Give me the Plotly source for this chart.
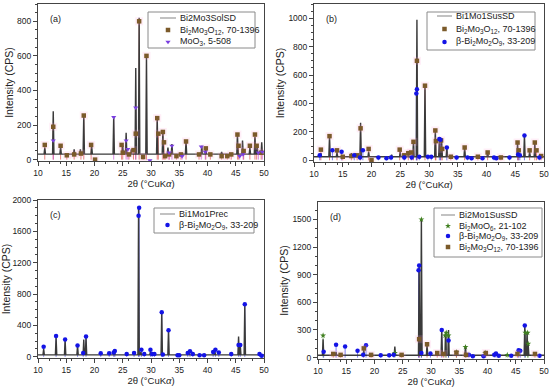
import plotly.graph_objects as go

# ---------------- data ----------------
x_ticks = [10, 15, 20, 25, 30, 35, 40, 45, 50]

# Panel (a) Bi2Mo3SolSD
a_bg = 32
a_peak_x = [11.2, 12.7, 14.0, 16.4, 17.5, 18.1, 19.5, 23.4, 25.0, 25.6, 26.5, 27.3, 27.9, 29.2, 31.1, 32.1, 33.0, 33.7, 36.2, 39.0, 39.7, 42.5, 45.3, 46.2, 47.5, 48.4, 48.8, 49.6]
a_peak_y = [70, 280, 75, 60, 60, 260, 80, 250, 80, 155, 60, 530, 820, 600, 240, 160, 70, 90, 105, 80, 60, 45, 150, 110, 70, 130, 80, 100]
a_ref1_x = [11.2, 12.7, 14.0, 15.1, 16.4, 17.6, 18.1, 19.4, 20.1, 24.8, 25.0, 26.1, 26.9, 27.3, 27.9, 28.6, 29.2, 31.1, 31.3, 32.1, 32.3, 32.5, 33.2, 34.5, 35.3, 36.2, 38.5, 39.7, 40.5, 42.5, 43.5, 44.2, 45.3, 45.5, 46.4, 47.5, 48.4, 48.7, 49.5]
a_ref1_y = [85, 190, 80, 25, 30, 35, 255, 85, 0, 85, 40, 30, 55, 150, 800, 15, 600, 240, 150, 160, 100, 20, 30, 20, 30, 105, 30, 65, 30, 20, 20, 30, 145, 80, 50, 80, 145, 80, 40]
a_ref2_x = [12.7, 23.4, 25.6, 25.9, 27.3, 29.8, 33.2, 33.7, 35.5, 38.9, 39.6, 45.7, 46.3, 49.0, 49.7]
a_ref2_y = [110, 245, 110, 60, 300, -5, 40, 80, 20, 75, 45, 20, 30, 40, 45]

# Panel (b) Bi1Mo1SusSD
b_bg = 25
b_peak_x = [11.2, 12.7, 14.0, 16.5, 18.1, 19.5, 23.5, 25.0, 26.4, 27.3, 27.9, 29.3, 31.1, 31.8, 32.2, 33.1, 36.2, 40.2, 45.4, 46.6, 47.5, 48.4]
b_peak_y = [50, 170, 60, 50, 265, 60, 40, 60, 50, 140, 990, 530, 210, 150, 140, 90, 90, 60, 120, 175, 60, 120]
b_ref1_x = [11.2, 12.7, 14.0, 15.0, 16.5, 17.5, 18.1, 19.5, 20.0, 24.9, 25.7, 26.4, 26.9, 27.3, 27.9, 29.3, 31.1, 31.2, 32.1, 32.3, 33.8, 36.2, 38.5, 40.2, 42.5, 45.4, 45.6, 47.5, 48.4, 48.7, 49.5]
b_ref1_y = [75, 170, 70, 25, 30, 35, 225, 80, 0, 75, 35, 50, 55, 130, 700, 525, 210, 135, 140, 80, 25, 90, 25, 55, 20, 125, 70, 70, 125, 70, 30]
b_ref2_x = [11.0, 13.2, 14.8, 17.0, 18.0, 18.5, 21.2, 22.6, 23.4, 25.7, 27.0, 27.8, 27.9, 28.3, 29.8, 30.4, 31.8, 32.0, 33.1, 34.8, 36.7, 37.4, 39.3, 41.3, 41.7, 44.0, 45.5, 45.8, 46.6, 49.2]
b_ref2_y = [35, 70, 60, 35, 20, 70, 20, 15, 20, 20, 20, 470, 500, 25, 25, 25, 150, 145, 90, 20, 20, 15, 15, 20, 15, 20, 40, 35, 175, 20]

# Panel (c) Bi1Mo1Prec
c_bg = 25
c_peak_x = [11.0, 13.2, 14.8, 17.0, 18.1, 18.5, 23.5, 27.0, 27.8, 28.2, 29.9, 31.9, 33.1, 36.7, 41.3, 45.5, 45.8, 46.6, 49.2]
c_peak_y = [100, 250, 210, 140, 220, 250, 80, 50, 1900, 60, 70, 580, 350, 60, 60, 260, 150, 660, 30]
c_ref1_x = [11.0, 13.2, 14.8, 17.0, 18.0, 18.5, 21.1, 22.6, 23.4, 23.6, 25.7, 27.0, 27.8, 27.9, 28.3, 28.8, 29.9, 30.2, 30.6, 31.9, 32.1, 33.1, 34.7, 35.0, 36.5, 36.9, 37.4, 38.6, 39.4, 41.0, 41.4, 42.0, 44.2, 45.5, 45.8, 46.6, 49.2, 49.6]
c_ref1_y = [130, 265, 220, 145, 50, 260, 45, 45, 55, 75, 35, 50, 1800, 1900, 90, 35, 90, 35, 35, 570, 30, 340, 20, 20, 50, 70, 35, 20, 20, 60, 90, 55, 35, 150, 150, 670, 35, 15]

# Panel (d) Bi2Mo1SusSD
d_bg = 25
d_peak_x = [10.9, 13.2, 18.1, 23.6, 27.9, 28.3, 29.3, 31.9, 32.6, 33.1, 36.1, 46.6, 47.0, 47.2]
d_peak_y = [200, 60, 80, 120, 1000, 1500, 150, 300, 280, 300, 120, 350, 280, 150]
d_ref1_x = [10.9, 23.6, 28.3, 32.5, 32.7, 33.1, 34.5, 36.1, 39.6, 43.5, 46.7, 47.1, 47.2]
d_ref1_y = [240, 50, 1500, 240, 270, 240, 60, 115, 50, 30, 270, 270, 150]
d_ref2_x = [11.0, 13.2, 14.8, 17.0, 18.0, 18.5, 21.1, 22.6, 23.4, 27.8, 27.9, 28.3, 29.9, 31.9, 33.1, 36.7, 37.4, 39.3, 41.2, 41.5, 42.0, 44.2, 45.5, 45.8, 46.6, 49.2]
d_ref2_y = [65, 140, 120, 75, 30, 135, 25, 25, 30, 950, 1000, 50, 45, 300, 185, 30, 15, 15, 30, 45, 20, 20, 80, 75, 350, 20]
d_ref3_x = [12.7, 14.0, 18.1, 19.4, 24.8, 27.9, 29.3, 31.1, 32.2, 34.5, 36.2, 39.7, 45.3, 48.4]
d_ref3_y = [40, 30, 100, 30, 30, 200, 145, 50, 40, 55, 30, 50, 40, 40]

# ---------------- styling ----------------
BROWN = "#7b5a2a"
PURPLE = "#7a3fe0"
BLUE = "#1414e6"
GREEN = "#3f7f1f"
LINE = "#3a3a3a"
LEG_LINE = "#9a9a9a"
STICK_RED = "rgba(216,48,42,0.75)"
FONT = "Liberation Sans, Arial, sans-serif"
W, H = 550, 387

fig = go.Figure()


def pattern(px, py, bg):
    xs, ys = [10.0], [bg]
    for x, y in sorted(zip(px, py)):
        xs += [x - 0.12, x, x + 0.12]
        ys += [bg, y, bg]
    xs.append(50.0)
    ys.append(bg)
    return xs, ys


def sticks(rx, ry):
    xs, ys = [], []
    for x, y in zip(rx, ry):
        xs += [x, x, None]
        ys += [0, y, None]
    return xs, ys


def add_panel(n, px, py, bg, refs):
    xa = "x" if n == 1 else f"x{n}"
    ya = "y" if n == 1 else f"y{n}"
    for rx, ry, label, color, symbol, stickc in refs:
        sx, sy = sticks(rx, ry)
        fig.add_trace(go.Scatter(x=sx, y=sy, mode="lines", line=dict(color=stickc, width=0.8),
                                 xaxis=xa, yaxis=ya, showlegend=False, hoverinfo="skip"))
    xs, ys = pattern(px, py, bg)
    fig.add_trace(go.Scatter(x=xs, y=ys, mode="lines", line=dict(color=LINE, width=1.4),
                             xaxis=xa, yaxis=ya, showlegend=False))
    for rx, ry, label, color, symbol, stickc in refs:
        if color == BROWN:
            fig.add_trace(go.Scatter(x=rx, y=ry, mode="markers",
                                     marker=dict(symbol="square", size=8, color="rgba(255,160,210,0.18)"),
                                     xaxis=xa, yaxis=ya, showlegend=False, hoverinfo="skip"))
        fig.add_trace(go.Scatter(x=rx, y=ry, mode="markers",
                                 marker=dict(symbol=symbol, size=4.5, color=color),
                                 xaxis=xa, yaxis=ya, showlegend=False))


L_BMO = "Bi<sub>2</sub>Mo<sub>3</sub>O<sub>12</sub>, 70-1396"
L_BETA = "β-Bi<sub>2</sub>Mo<sub>2</sub>O<sub>9</sub>, 33-209"
L_MOO3 = "MoO<sub>3</sub>, 5-508"
L_B2M = "Bi<sub>2</sub>MoO<sub>6</sub>, 21-102"

refs_a = [(a_ref1_x, a_ref1_y, L_BMO, BROWN, "square", STICK_RED),
          (a_ref2_x, a_ref2_y, L_MOO3, PURPLE, "triangle-down", "rgba(190,60,210,0.75)")]
refs_b = [(b_ref1_x, b_ref1_y, L_BMO, BROWN, "square", STICK_RED),
          (b_ref2_x, b_ref2_y, L_BETA, BLUE, "circle", "rgba(20,20,230,0.7)")]
refs_c = [(c_ref1_x, c_ref1_y, L_BETA, BLUE, "circle", "rgba(20,20,230,0.7)")]
refs_d = [(d_ref1_x, d_ref1_y, L_B2M, GREEN, "star", "rgba(63,127,31,0.7)"),
          (d_ref2_x, d_ref2_y, L_BETA, BLUE, "circle", "rgba(20,20,230,0.7)"),
          (d_ref3_x, d_ref3_y, L_BMO, BROWN, "square", STICK_RED)]

add_panel(1, a_peak_x, a_peak_y, a_bg, refs_a)
add_panel(2, b_peak_x, b_peak_y, b_bg, refs_b)
add_panel(3, c_peak_x, c_peak_y, c_bg, refs_c)
add_panel(4, d_peak_x, d_peak_y, d_bg, refs_d)

panels = {
    1: dict(x0=38, x1=264, y0=4, y1=161, yr=[-8, 900], ytick=200, label="(a)"),
    2: dict(x0=314, x1=544, y0=4, y1=162, yr=[-12, 1100], ytick=200, label="(b)"),
    3: dict(x0=38, x1=264, y0=200, y1=358, yr=[-15, 2000], ytick=400, label="(c)"),
    4: dict(x0=318, x1=544, y0=202, y1=359, yr=[-15, 1690], ytick=300, label="(d)"),
}
# legend boxes in pixels: left, top, right, bottom, line x0, line x1, text x, row ys
legends = {
    1: dict(box=(148, 12, 255, 48), lx=(160, 176), tx=178, rows=(18, 30, 42),
            names=["Bi2Mo3SolSD"] + [r[2] for r in refs_a], refs=refs_a),
    2: dict(box=(427, 12, 535, 50), lx=(437, 452), tx=454, rows=(16, 29, 42),
            names=["Bi1Mo1SusSD"] + [r[2] for r in refs_b], refs=refs_b),
    3: dict(box=(154, 208, 254, 233), lx=(160, 175), tx=177, rows=(214, 225),
            names=["Bi1Mo1Prec"] + [r[2] for r in refs_c], refs=refs_c),
    4: dict(box=(434, 208, 542, 257), lx=(441, 455), tx=457, rows=(215, 226, 236, 247),
            names=["Bi2Mo1SusSD"] + [r[2] for r in refs_d], refs=refs_d),
}

annotations = []
for n, lg in legends.items():
    l, t, r, b = lg["box"]
    fig.add_trace(go.Scatter(x=[l, r, r, l, l], y=[t, t, b, b, t], mode="lines", fill="toself",
                             fillcolor="white", line=dict(color="#8a8a8a", width=1),
                             xaxis="x5", yaxis="y5", showlegend=False, hoverinfo="skip"))
    rows = lg["rows"]
    fig.add_trace(go.Scatter(x=list(lg["lx"]), y=[rows[0], rows[0]], mode="lines",
                             line=dict(color=LEG_LINE, width=1.2),
                             xaxis="x5", yaxis="y5", showlegend=False, hoverinfo="skip"))
    mx = (lg["lx"][0] + lg["lx"][1]) / 2
    for ry, ref in zip(rows[1:], lg["refs"]):
        fig.add_trace(go.Scatter(x=[mx], y=[ry], mode="markers",
                                 marker=dict(symbol=ref[4], size=4.5, color=ref[3]),
                                 xaxis="x5", yaxis="y5", showlegend=False, hoverinfo="skip"))
    for ry, name in zip(rows, lg["names"]):
        annotations.append(dict(x=lg["tx"] / W, y=1 - ry / H, xref="paper", yref="paper", text=name,
                                showarrow=False, xanchor="left", yanchor="middle",
                                font=dict(family=FONT, size=9, color="#222")))

axis_common = dict(showline=True, linecolor="#444", linewidth=1, mirror=True, automargin=False,
                   ticks="outside", ticklen=4, tickcolor="#444", showgrid=False, zeroline=False,
                   tickfont=dict(family=FONT, size=8.5, color="#222"),
                   minor=dict(ticks="outside", ticklen=2, tickcolor="#444"))

layout = dict(width=W, height=H, margin=dict(l=0, r=0, t=0, b=0),
              paper_bgcolor="white", plot_bgcolor="rgba(0,0,0,0)",
              font=dict(family=FONT, size=9, color="#222"), showlegend=False,
              xaxis5=dict(domain=[0, 1], range=[0, W], visible=False, anchor="y5", fixedrange=True),
              yaxis5=dict(domain=[0, 1], range=[H, 0], visible=False, anchor="x5", fixedrange=True))
for n, p in panels.items():
    sx = "" if n == 1 else str(n)
    layout[f"xaxis{sx}"] = dict(axis_common, domain=[p["x0"] / W, p["x1"] / W], range=[10, 50],
                                tickvals=x_ticks, anchor=f"y{sx}",
                                title=dict(text="2θ (°CuK<i>α</i>)", font=dict(family=FONT, size=9.5), standoff=3))
    layout[f"yaxis{sx}"] = dict(axis_common, domain=[1 - p["y1"] / H, 1 - p["y0"] / H], range=p["yr"],
                                dtick=p["ytick"], tick0=0, anchor=f"x{sx}",
                                title=dict(text="Intensity (CPS)", font=dict(family=FONT, size=10.5), standoff=1))
    annotations.append(dict(x=(p["x0"] + 10) / W, y=1 - (p["y0"] + 8) / H, xref="paper", yref="paper",
                            text=p["label"], showarrow=False, xanchor="left", yanchor="top",
                            font=dict(family=FONT, size=9, color="#222")))
layout["annotations"] = annotations

fig.update_layout(**layout)
fig.write_html("out.html", config={"displayModeBar": False},
               post_script="document.body.style.margin='0';document.body.style.overflow='hidden';")
